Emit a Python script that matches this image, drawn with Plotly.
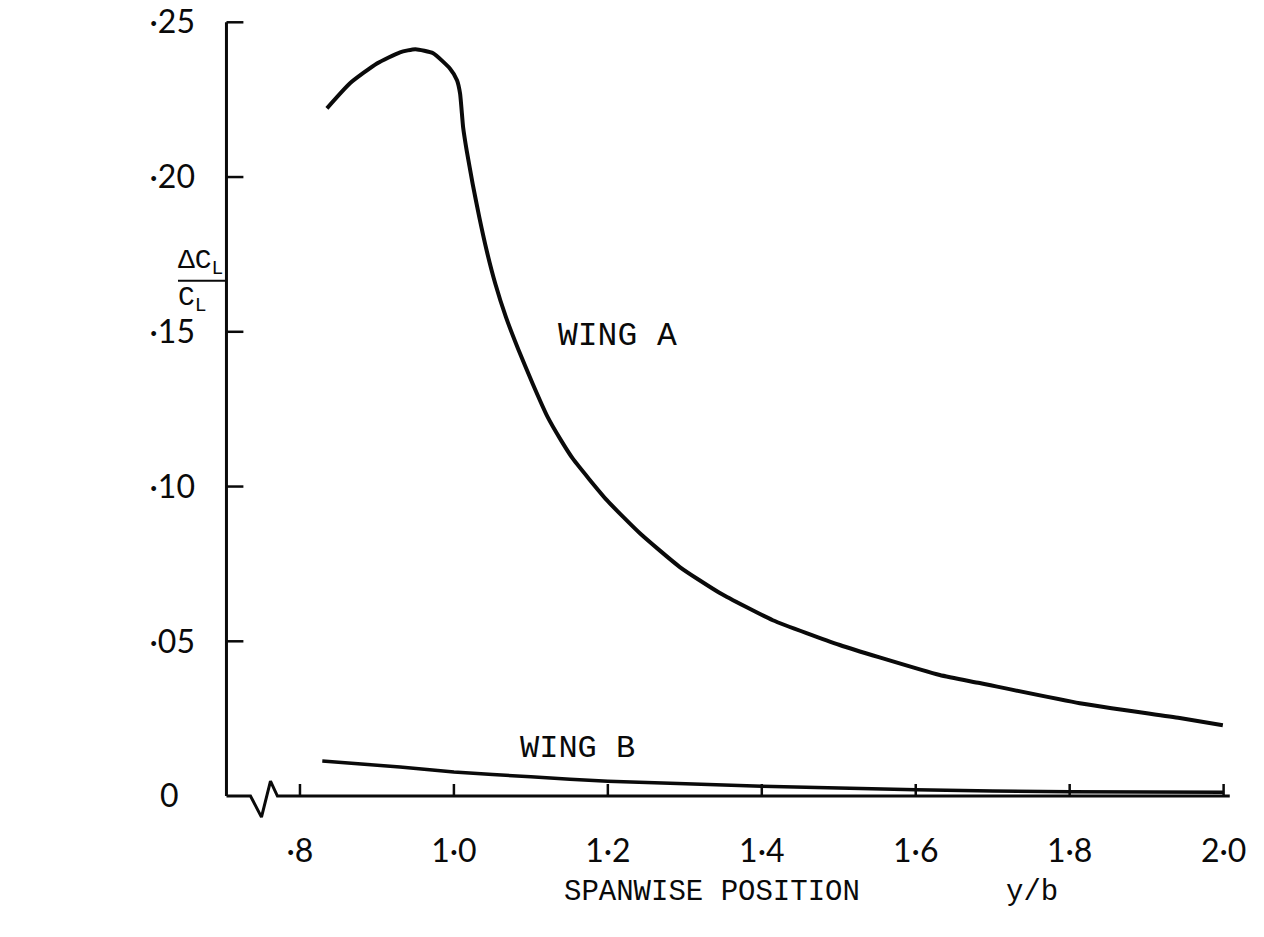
import plotly.graph_objects as go

# ---- data ----
wing_a_x = [0.835, 0.865, 0.900, 0.930, 0.950, 0.973, 0.995, 1.004, 1.008, 1.012,
            1.0165, 1.0243, 1.0329, 1.0424, 1.0537, 1.0675, 1.0840, 1.1022, 1.1217, 1.1390,
            1.1545, 1.1987, 1.2416, 1.2935, 1.3455, 1.4143, 1.5013, 1.5530, 1.6312, 1.6831,
            1.8130, 1.9429, 1.9990]
wing_a_y = [0.2222, 0.2303, 0.2367, 0.2403, 0.2413, 0.2400, 0.2350, 0.2313, 0.2270, 0.2160,
            0.2087, 0.1979, 0.1871, 0.1764, 0.1656, 0.1548, 0.1441, 0.1333, 0.1225, 0.1150,
            0.1090, 0.0956, 0.0849, 0.0740, 0.0656, 0.0568, 0.0488, 0.0448, 0.0391, 0.0365,
            0.0300, 0.0252, 0.0229]

wing_b_x = [0.829, 0.930, 1.000, 1.100, 1.200, 1.400, 1.600, 1.800, 2.000]
wing_b_y = [0.0113, 0.0094, 0.0078, 0.0062, 0.0048, 0.0032, 0.0020, 0.0014, 0.0012]

x_tick_vals = [0.8, 1.0, 1.2, 1.4, 1.6, 1.8, 2.0]
x_tick_text = ["·8", "1·0", "1·2", "1·4", "1·6", "1·8", "2·0"]
y_tick_vals = [0.0, 0.05, 0.10, 0.15, 0.20, 0.25]
y_tick_text = ["0\u00a0\u00a0", "·05", "·10", "·15", "·20", "·25"]

# axis origin and broken-axis zigzag (data units)
axis_x0 = 0.7045
axis_x1 = 2.008
break_x = [0.7357, 0.7500, 0.7617, 0.7707]
break_y = [0.0, -0.0068, 0.0048, 0.0]
x_tick_len = 0.0039
y_tick_len = 0.022

INK = "#0a0a0a"

fig = go.Figure()

# Wing curves
fig.add_trace(go.Scatter(x=wing_a_x, y=wing_a_y, mode="lines",
                         line=dict(color=INK, width=4, shape="spline", smoothing=0.5),
                         name="WING A", showlegend=False))
fig.add_trace(go.Scatter(x=wing_b_x, y=wing_b_y, mode="lines",
                         line=dict(color=INK, width=3.5, shape="spline", smoothing=0.5),
                         name="WING B", showlegend=False))

# axis lines (x-axis with break)
ax_x = [axis_x0, axis_x0, None, axis_x0] + break_x + [axis_x1]
ax_y = [0.25, 0.0, None, 0.0] + break_y + [0.0]
fig.add_trace(go.Scatter(x=ax_x, y=ax_y, mode="lines",
                         line=dict(color=INK, width=3), showlegend=False, hoverinfo="skip"))

# tick marks
tx, ty = [], []
for v in x_tick_vals:
    tx += [v, v, None]
    ty += [0.0, x_tick_len, None]
for v in y_tick_vals[1:]:
    tx += [axis_x0, axis_x0 + y_tick_len, None]
    ty += [v, v, None]
fig.add_trace(go.Scatter(x=tx, y=ty, mode="lines",
                         line=dict(color=INK, width=2.5), showlegend=False, hoverinfo="skip"))

tick_font = dict(family="Lato, 'Noto Sans', sans-serif", size=32, color=INK)
mono = "'Liberation Mono', 'DejaVu Sans Mono', monospace"

fig.update_layout(
    width=1264, height=937,
    margin=dict(l=223, r=25, t=13, b=110, autoexpand=False),
    paper_bgcolor="white", plot_bgcolor="white",
    xaxis=dict(range=[0.70, 2.02], showgrid=False, zeroline=False, showline=False,
               automargin=False,
               tickmode="array", tickvals=x_tick_vals, ticktext=x_tick_text,
               ticks="", tickfont=tick_font, ticklabelstandoff=2),
    yaxis=dict(range=[-0.01, 0.253], showgrid=False, zeroline=False, showline=False,
               automargin=False,
               tickmode="array", tickvals=y_tick_vals, ticktext=y_tick_text,
               ticks="", tickfont=tick_font, ticklabelstandoff=27),
)

# curve labels
fig.add_annotation(x=1.213, y=0.1485, xref="x", yref="y", text="WING A", showarrow=False,
                   yanchor="middle", font=dict(family=mono, size=33, color=INK))
fig.add_annotation(x=1.160, y=0.0155, xref="x", yref="y", text="WING B", showarrow=False,
                   yanchor="middle", font=dict(family=mono, size=32, color=INK))

# x-axis title
fig.add_annotation(x=0.481, y=-0.080, xref="paper", yref="paper", text="SPANWISE POSITION",
                   showarrow=False, yanchor="middle", font=dict(family=mono, size=29, color=INK))
fig.add_annotation(x=0.824, y=-0.080, xref="paper", yref="paper", text="y/b",
                   showarrow=False, yanchor="middle", font=dict(family=mono, size=29, color=INK))

# y-axis title (fraction)
fig.add_annotation(x=-0.046, y=0.693, xref="paper", yref="paper",
                   text="ΔC<sub>L</sub>", showarrow=False, yanchor="middle",
                   font=dict(family=mono, size=28, color=INK))
fig.add_annotation(x=-0.046, y=0.648, xref="paper", yref="paper",
                   text="C<sub>L</sub>", showarrow=False, yanchor="middle",
                   font=dict(family=mono, size=28, color=INK))
fig.add_shape(type="line", xref="paper", yref="paper",
              x0=-0.0443, x1=0.002, y0=0.671, y1=0.671,
              line=dict(color=INK, width=2))

fig.write_html("out.html")
